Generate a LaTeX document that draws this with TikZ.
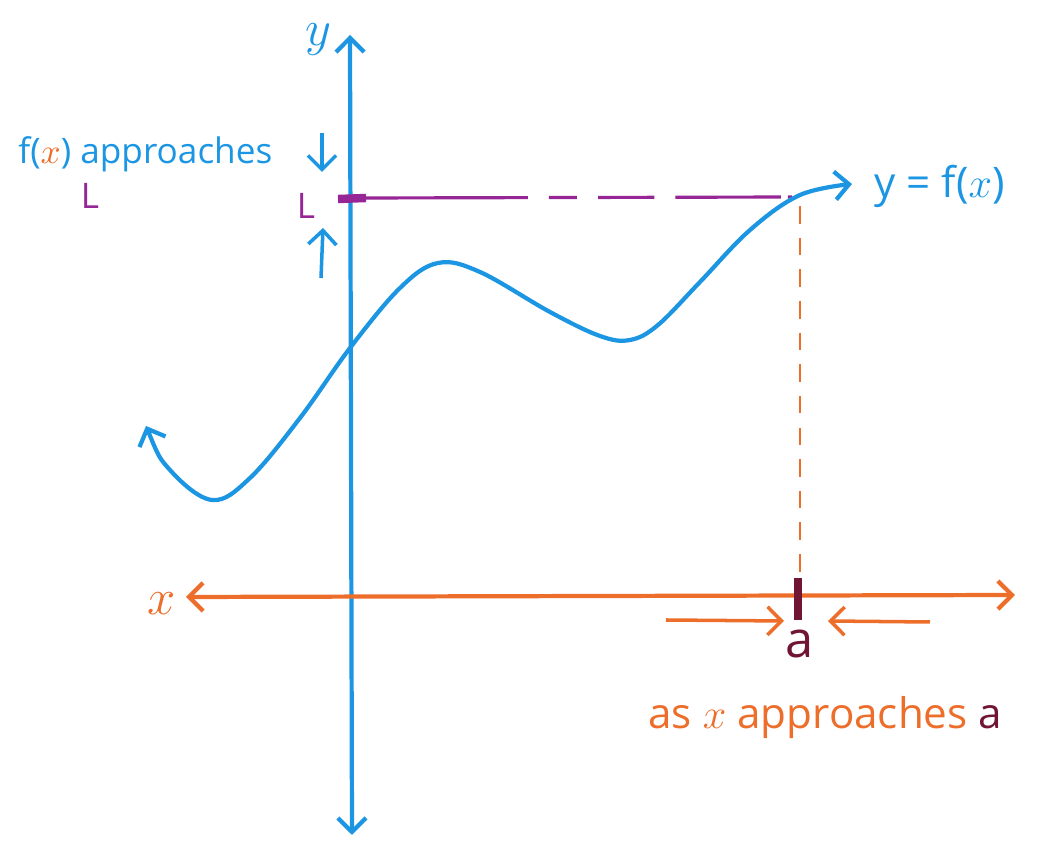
\documentclass[tikz,border=0pt]{standalone}
\usepackage{fontspec}
\setmainfont{Open Sans}
\usetikzlibrary{arrows.meta}
\definecolor{fblue}{RGB}{28,150,226}
\definecolor{xorange}{RGB}{236,110,42}
\definecolor{lpurple}{RGB}{150,38,150}
\definecolor{amaroon}{RGB}{112,22,52}

\begin{document}
\begin{tikzpicture}[x=0.01cm,y=-0.01cm,font=\normalsize,
  ax/.style={line width=1.2pt,line cap=round},
  barb/.style={-{Straight Barb[length=4pt,width=8pt]}},
  twobarb/.style={{Straight Barb[length=4pt,width=8pt]}-{Straight Barb[length=4pt,width=8pt]}}]
  \useasboundingbox (0,0) rectangle (1044,846);

  % axes
  \coordinate (ytop) at (350,35);
  \coordinate (ybot) at (352,835);
  \coordinate (xleft) at (186,597);
  \coordinate (xright) at (1015,595);
  \draw[ax,fblue,twobarb] (ybot) -- (ytop);
  \draw[ax,xorange,twobarb] (xleft) -- (xright);
  \node[text=fblue,font=\Large] (ylab) at (318,40) {$y$};
  \node[text=xorange,font=\Large] (xlab) at (162,604) {$x$};

  % limit L on the y axis
  \coordinate (ltick0) at (338,199);
  \coordinate (ltick1) at (366,198);
  \coordinate (lend) at (792,197);
  \draw[lpurple,line width=2.4pt] (ltick0) -- (ltick1);
  \draw[lpurple,line width=0.9pt,dash pattern=on 46pt off 6pt on 8pt off 6pt on 16pt off 6pt on 30pt off 2pt] (ltick1) -- (lend);
  \node[text=lpurple] (llab) at (306,206) {L};
  \coordinate (dn0) at (322,133);
  \coordinate (dn1) at (322,172);
  \coordinate (up0) at (321,278);
  \coordinate (up1) at (323,228);
  \draw[fblue,line width=1pt,barb] (dn0) -- (dn1);
  \draw[fblue,line width=1pt,barb] (up0) -- (up1);

  % the curve
  \draw[ax,fblue,twobarb] plot[smooth,tension=0.6] coordinates {(146,426) (170,470) (212,500) (250,478)
    (300,418) (350,348) (400,288) (438,263) (480,272) (550,312) (600,336) (630,340) (658,325)
    (700,282) (750,230) (800,195) (852,184)};
  \node[text=fblue,anchor=west,font=\large] (fname) at (862,186) {y = f($x$)};

  % the point a
  \coordinate (atop) at (800,206);
  \coordinate (abot) at (800,590);
  \coordinate (atick0) at (798,578);
  \coordinate (atick1) at (798,620);
  \draw[xorange,line width=0.8pt,dash pattern=on 5pt off 4pt] (atop) -- (abot);
  \draw[amaroon,line width=2.4pt] (atick0) -- (atick1);
  \coordinate (lf0) at (666,620);
  \coordinate (lf1) at (784,621);
  \coordinate (rt0) at (930,622);
  \coordinate (rt1) at (828,621);
  \draw[xorange,line width=1pt,barb] (lf0) -- (lf1);
  \draw[xorange,line width=1pt,barb] (rt0) -- (rt1);
  \node[text=amaroon,font=\Large] (alab) at (800,644) {a};

  % texts
  \node[text=fblue,anchor=west] (fapp) at (6,154) {f(\textcolor{xorange}{$x$}) approaches};
  \node[text=lpurple] (lnote) at (90,196) {L};
  \node[text=xorange,anchor=west,font=\large] (asx) at (636,718) {as $x$ approaches \textcolor{amaroon}{a}};
\end{tikzpicture}
\end{document}
